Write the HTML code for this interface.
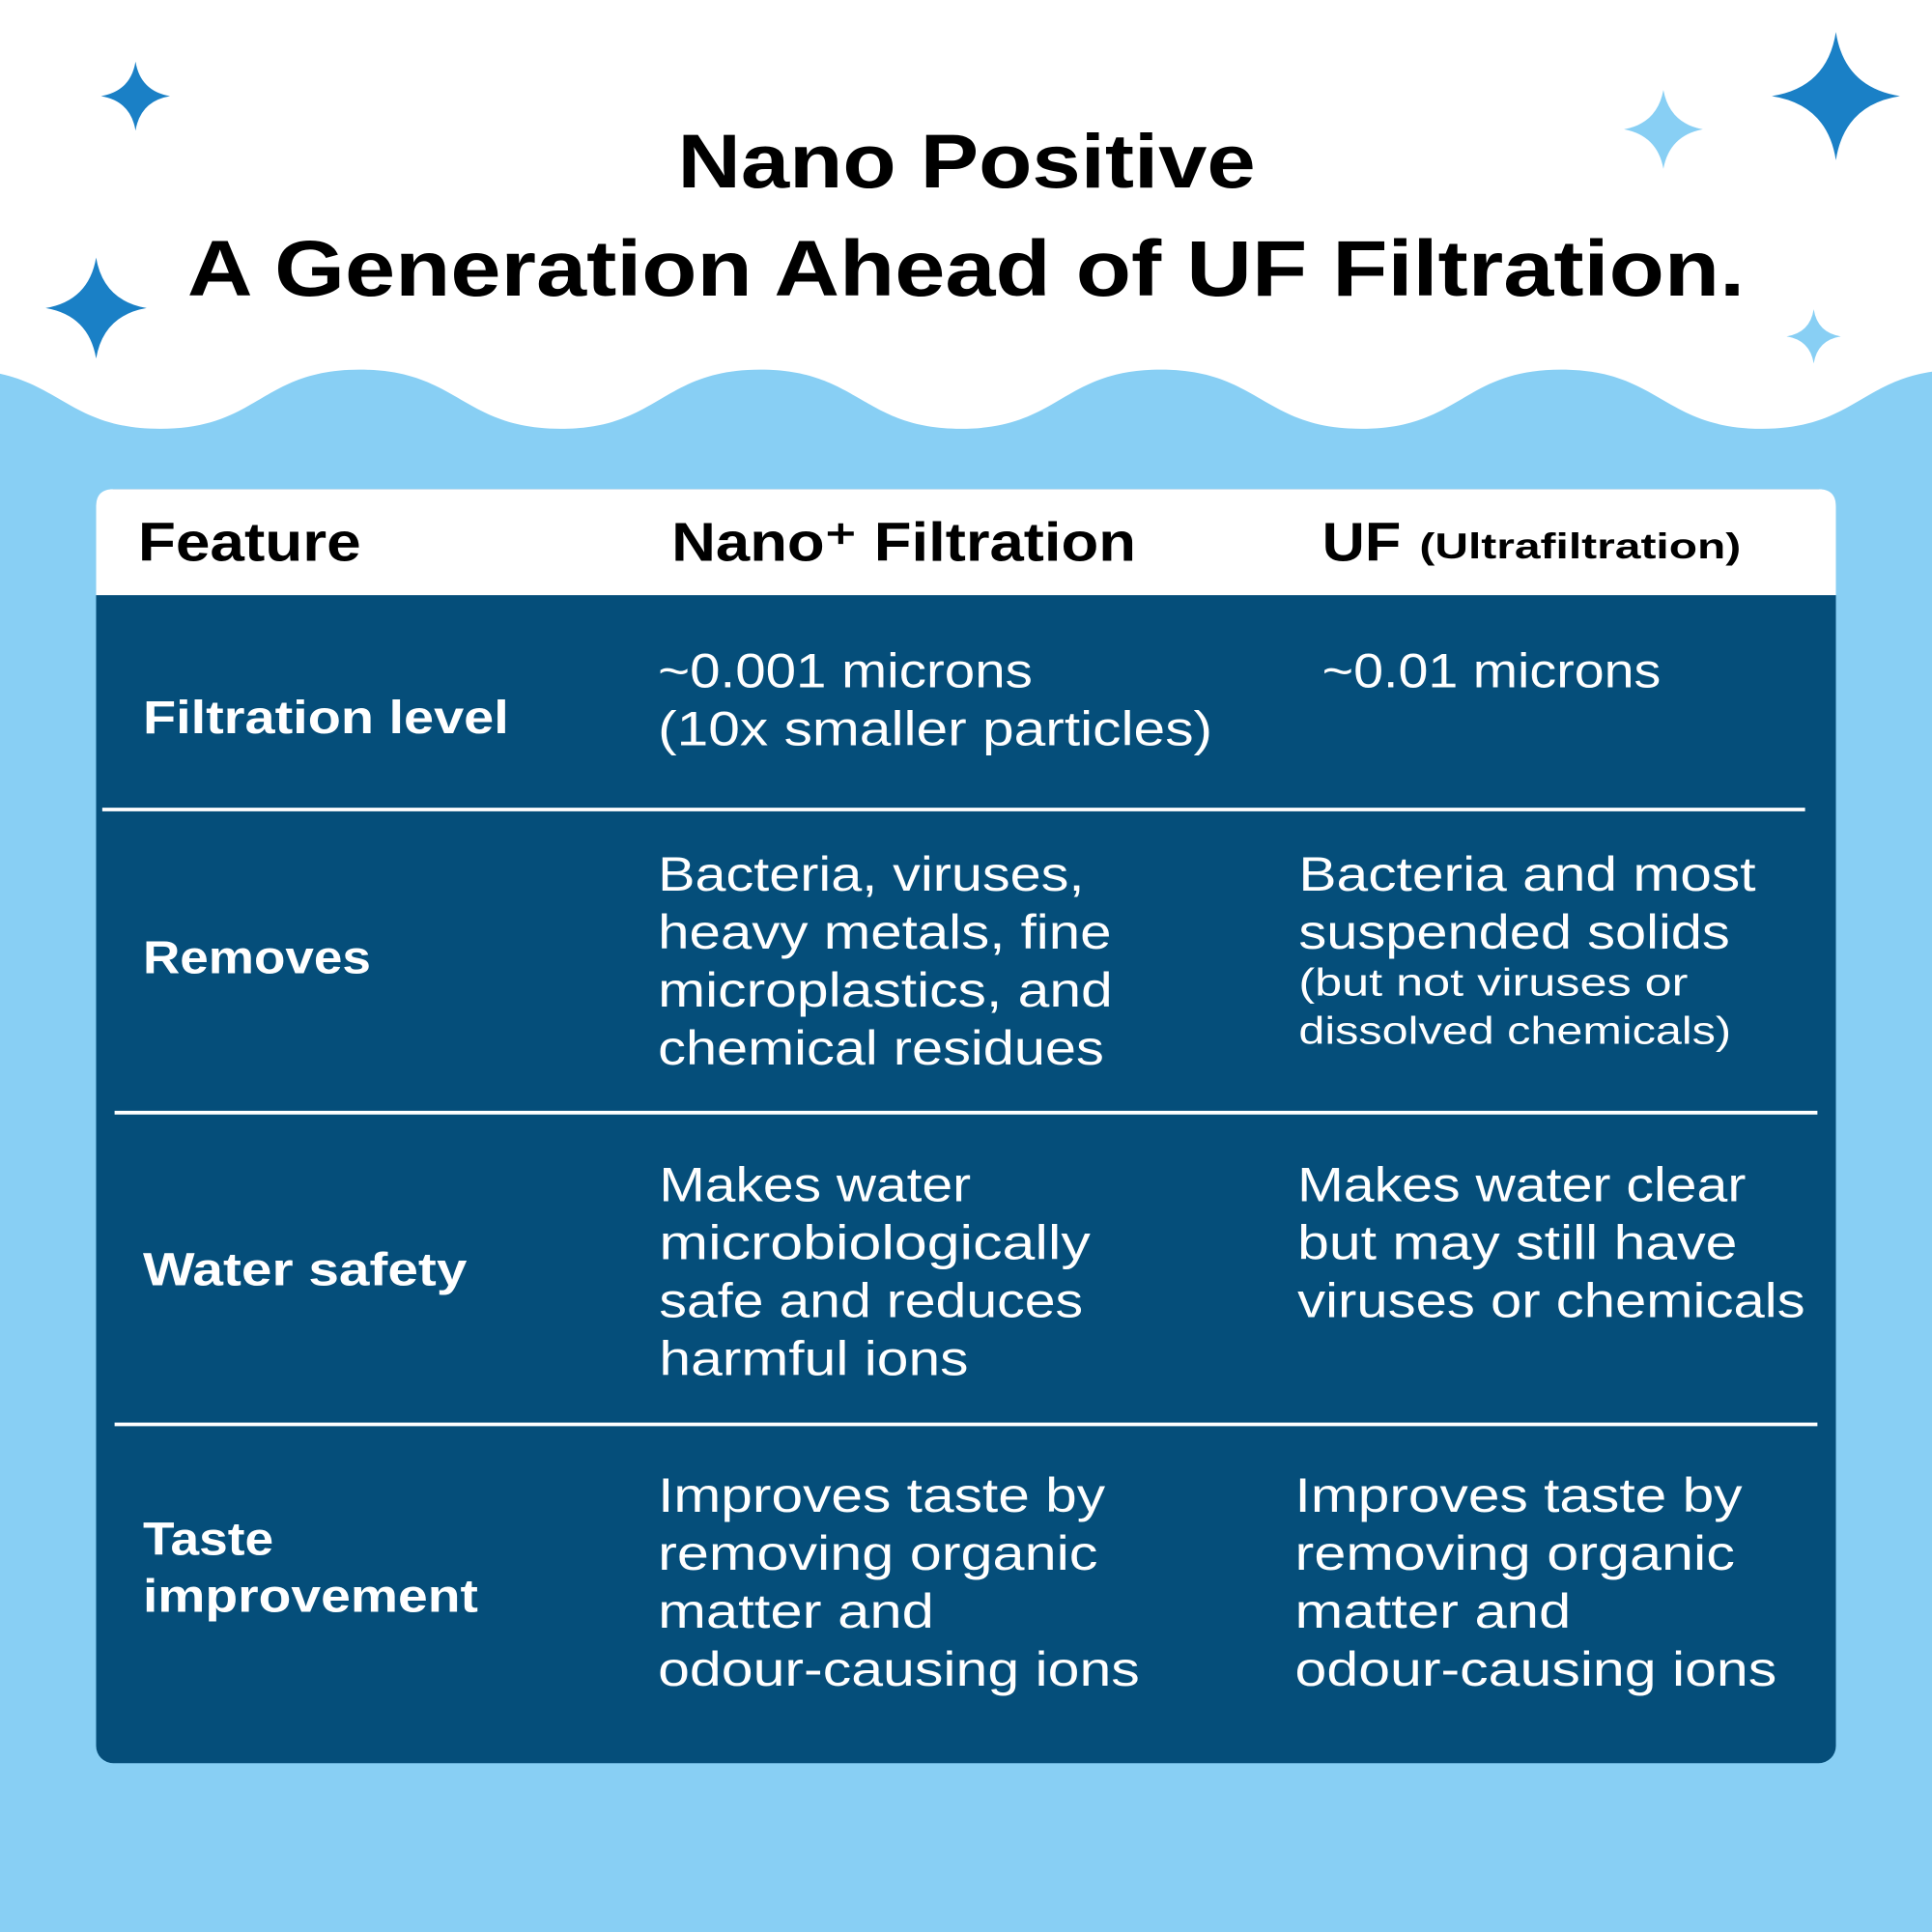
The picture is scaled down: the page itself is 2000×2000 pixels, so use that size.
<!DOCTYPE html>
<html><head><meta charset="utf-8"><style>
html,body{margin:0;padding:0;width:2000px;height:2000px;overflow:hidden;background:#fff}
svg{display:block}
text{font-family:"Liberation Sans",sans-serif}
.b{font-weight:bold}
.w{fill:#fff}
</style></head><body>
<svg width="2000" height="2000" viewBox="0 0 1568 1568" xmlns="http://www.w3.org/2000/svg">
<rect width="1568" height="1568" fill="#fff"/>
<path d="M-33,300 C47,300 50,348 130,348 S212,300 292,300 S375,348 455,348 S537,300 617,300 S700,348 780,348 S862,300 942,300 S1025,348 1105,348 S1187,300 1267,300 S1350,348 1430,348 S1512,300 1592,300 L1592,1568 L-33,1568 Z" fill="#88CFF4"/>
<g fill="#1A80C6">
<path d="M110,50 Q114,74 138,78 Q114,82 110,106 Q106,82 82,78 Q106,74 110,50Z"/>
<path d="M78,209 Q84,244 119,250 Q84,256 78,291 Q72,256 37,250 Q72,244 78,209Z"/>
<path d="M1490,26 Q1497,71 1542,78 Q1497,85 1490,130 Q1483,85 1438,78 Q1483,71 1490,26Z"/>
</g>
<g fill="#88CFF4">
<path d="M1350,73 Q1355,100 1382,105 Q1355,110 1350,137 Q1345,110 1318,105 Q1345,100 1350,73Z"/>
<path d="M1472,251 Q1475,270 1494,273 Q1475,276 1472,295 Q1469,276 1450,273 Q1469,270 1472,251Z"/>
</g>
<text class="b" x="550" y="152" font-size="62" textLength="469" lengthAdjust="spacingAndGlyphs">Nano Positive</text>
<text class="b" x="152" y="240" font-size="64" textLength="1264" lengthAdjust="spacingAndGlyphs">A Generation Ahead of UF Filtration.</text>
<rect x="78" y="397" width="1412" height="1034" rx="14" fill="#054E7A"/>
<path d="M78,483 L78,411 Q78,397 92,397 L1476,397 Q1490,397 1490,411 L1490,483 Z" fill="#fff"/>
<text class="b" x="112" y="455" font-size="44" textLength="181" lengthAdjust="spacingAndGlyphs">Feature</text>
<text class="b" x="545" y="455" font-size="44" textLength="377" lengthAdjust="spacingAndGlyphs">Nano⁺ Filtration</text>
<text class="b" x="1073" y="455" font-size="44" textLength="64" lengthAdjust="spacingAndGlyphs">UF</text>
<text class="b" x="1152" y="453" font-size="29" textLength="261" lengthAdjust="spacingAndGlyphs">(Ultrafiltration)</text>
<g stroke="#fff" stroke-width="3">
<line x1="83" y1="657" x2="1465" y2="657"/>
<line x1="93" y1="903" x2="1475" y2="903"/>
<line x1="93" y1="1156" x2="1475" y2="1156"/>
</g>
<g class="w b" font-size="38">
<text x="116" y="595" textLength="297" lengthAdjust="spacingAndGlyphs">Filtration level</text>
<text x="116" y="790" textLength="185" lengthAdjust="spacingAndGlyphs">Removes</text>
<text x="116" y="1043" textLength="263" lengthAdjust="spacingAndGlyphs">Water safety</text>
<text x="116" y="1262" textLength="106" lengthAdjust="spacingAndGlyphs">Taste</text>
<text x="116" y="1308" textLength="272" lengthAdjust="spacingAndGlyphs">improvement</text>
</g>
<g class="w" font-size="39" lengthAdjust="spacingAndGlyphs">
<text x="534" y="558" textLength="304" lengthAdjust="spacingAndGlyphs">~0.001 microns</text>
<text x="534" y="605" textLength="450" lengthAdjust="spacingAndGlyphs">(10x smaller particles)</text>
<text x="1073" y="558" textLength="275" lengthAdjust="spacingAndGlyphs">~0.01 microns</text>

<text x="534" y="723" textLength="346" lengthAdjust="spacingAndGlyphs">Bacteria, viruses,</text>
<text x="534" y="770" textLength="368" lengthAdjust="spacingAndGlyphs">heavy metals, fine</text>
<text x="534" y="817" textLength="369" lengthAdjust="spacingAndGlyphs">microplastics, and</text>
<text x="534" y="864" textLength="362" lengthAdjust="spacingAndGlyphs">chemical residues</text>
<text x="1054" y="723" textLength="371" lengthAdjust="spacingAndGlyphs">Bacteria and most</text>
<text x="1054" y="770" textLength="350" lengthAdjust="spacingAndGlyphs">suspended solids</text>
<text x="1054" y="808" font-size="31" textLength="316" lengthAdjust="spacingAndGlyphs">(but not viruses or</text>
<text x="1054" y="847" font-size="31" textLength="351" lengthAdjust="spacingAndGlyphs">dissolved chemicals)</text>

<text x="535" y="975" textLength="253" lengthAdjust="spacingAndGlyphs">Makes water</text>
<text x="535" y="1022" textLength="350" lengthAdjust="spacingAndGlyphs">microbiologically</text>
<text x="535" y="1069" textLength="344" lengthAdjust="spacingAndGlyphs">safe and reduces</text>
<text x="535" y="1116" textLength="251" lengthAdjust="spacingAndGlyphs">harmful ions</text>
<text x="1053" y="975" textLength="364" lengthAdjust="spacingAndGlyphs">Makes water clear</text>
<text x="1053" y="1022" textLength="357" lengthAdjust="spacingAndGlyphs">but may still have</text>
<text x="1053" y="1069" textLength="412" lengthAdjust="spacingAndGlyphs">viruses or chemicals</text>

<text x="534" y="1227" textLength="363" lengthAdjust="spacingAndGlyphs">Improves taste by</text>
<text x="534" y="1274" textLength="357" lengthAdjust="spacingAndGlyphs">removing organic</text>
<text x="534" y="1321" textLength="224" lengthAdjust="spacingAndGlyphs">matter and</text>
<text x="534" y="1368" textLength="391" lengthAdjust="spacingAndGlyphs">odour-causing ions</text>
<text x="1051" y="1227" textLength="363" lengthAdjust="spacingAndGlyphs">Improves taste by</text>
<text x="1051" y="1274" textLength="357" lengthAdjust="spacingAndGlyphs">removing organic</text>
<text x="1051" y="1321" textLength="224" lengthAdjust="spacingAndGlyphs">matter and</text>
<text x="1051" y="1368" textLength="391" lengthAdjust="spacingAndGlyphs">odour-causing ions</text>
</g>
</svg>
</body></html>
